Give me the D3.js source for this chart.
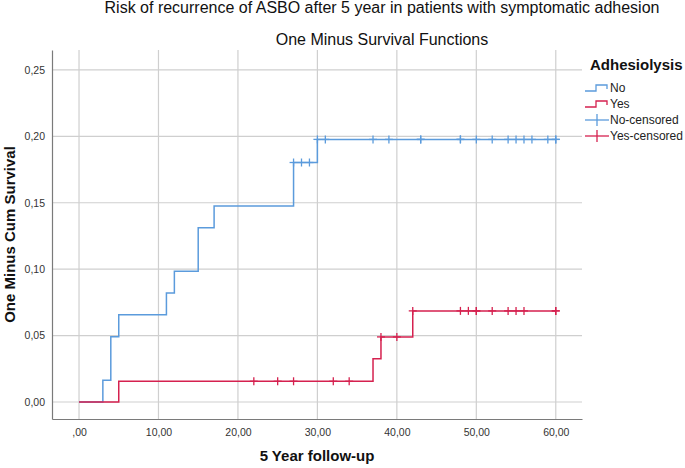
<!DOCTYPE html>
<html>
<head>
<meta charset="utf-8">
<script src="https://cdn.jsdelivr.net/npm/d3@7"></script>
<style>
  html, body { margin: 0; padding: 0; background: #fff; }
  svg { display: block; font-family: "Liberation Sans", Arial, sans-serif; }
</style>
</head>
<body>
<svg id="chart" width="685" height="468"></svg>
<script>
// ---- data ----
const xTicks = [0, 10, 20, 30, 40, 50, 60];
const xTickLabels = [",00", "10,00", "20,00", "30,00", "40,00", "50,00", "60,00"];
const yTicks = [0, 0.05, 0.10, 0.15, 0.20, 0.25];
const yTickLabels = ["0,00", "0,05", "0,10", "0,15", "0,20", "0,25"];

const noTimes  = [0, 3, 4, 5, 11, 12, 15, 17, 27, 30, 60];
const noValues = [0, 0.0164, 0.0492, 0.0656, 0.0820, 0.0984, 0.1311, 0.1475, 0.1803, 0.1977, 0.1977];
const yesTimes  = [0, 5, 37, 38, 42, 60];
const yesValues = [0, 0.0156, 0.0325, 0.0490, 0.0686, 0.0686];

const noCensored  = [27, 28, 29, 30, 31, 37, 39, 43, 43, 48, 48, 50, 52, 54, 55, 56, 57, 59, 60, 60];
const yesCensored = [22, 25, 27, 32, 34, 38, 40, 42, 48, 49, 50, 50, 52, 54, 55, 56, 60, 60];

const groups = ["No", "Yes"];
const legendLabels = ["No", "Yes", "No-censored", "Yes-censored"];

const title = "Risk of recurrence of ASBO after 5 year in patients with symptomatic adhesion";
const subtitle = "One Minus Survival Functions";
const xTitle = "5 Year follow-up";
const yTitle = "One Minus Cum Survival";
const legendTitle = "Adhesiolysis";

// ---- drawing ----
const blue = "#5b9bdc";
const red = "#d5214f";
const colors = [blue, red];

const svg = d3.select("#chart");
const x = d3.scaleLinear().domain([-3.4, 63.3]).range([52, 582]);
const y = d3.scaleLinear().domain([-0.0128, 0.265]).range([419, 50]);

// grid
svg.append("g").selectAll("line").data(xTicks).join("line")
  .attr("x1", d => x(d)).attr("x2", d => x(d))
  .attr("y1", y.range()[1]).attr("y2", y.range()[0])
  .attr("stroke", "#cfcfcf").attr("stroke-width", 1.2);
svg.append("g").selectAll("line").data(yTicks).join("line")
  .attr("x1", x.range()[0]).attr("x2", x.range()[1])
  .attr("y1", d => y(d)).attr("y2", d => y(d))
  .attr("stroke", "#cfcfcf").attr("stroke-width", 1.2);

// axes
const xAxis = d3.axisBottom(x).tickValues(xTicks)
  .tickFormat((d, i) => xTickLabels[i]).tickSize(0).tickPadding(10);
const gx = svg.append("g").attr("transform", `translate(0,${y.range()[0]})`).call(xAxis);
const yAxis = d3.axisLeft(y).tickValues(yTicks)
  .tickFormat((d, i) => yTickLabels[i]).tickSize(0).tickPadding(7);
const gy = svg.append("g").attr("transform", `translate(${x.range()[0]},0)`).call(yAxis);
[gx, gy].forEach(g => {
  g.select(".domain").attr("stroke", "#7a7a7a").attr("stroke-width", 1.2);
  g.selectAll("text").attr("font-size", 10.5).attr("fill", "#333")
    .attr("font-family", "'Liberation Sans', Arial, sans-serif");
});

// step lines
const series = [
  { t: noTimes, v: noValues, c: noCensored },
  { t: yesTimes, v: yesValues, c: yesCensored }
];
const line = d3.line().x(d => x(d[0])).y(d => y(d[1])).curve(d3.curveStepAfter);
series.forEach((s, i) => {
  const pts = s.t.map((t, j) => [t, s.v[j]]);
  svg.append("path").datum(pts).attr("d", line)
    .attr("fill", "none").attr("stroke", colors[i]).attr("stroke-width", 1.5);
});

// censor marks
function valueAt(s, t) {
  let v = s.v[0];
  for (let j = 0; j < s.t.length; j++) if (s.t[j] <= t) v = s.v[j];
  return v;
}
series.forEach((s, i) => {
  const g = svg.append("g").attr("stroke", colors[i]).attr("stroke-width", 1.3);
  s.c.forEach(t => {
    const cx = x(t), cy = y(valueAt(s, t));
    g.append("line").attr("x1", cx - 4).attr("x2", cx + 4).attr("y1", cy).attr("y2", cy);
    g.append("line").attr("x1", cx).attr("x2", cx).attr("y1", cy - 4).attr("y2", cy + 4);
  });
});

// titles
svg.append("text").attr("x", 382).attr("y", 13).attr("text-anchor", "middle")
  .attr("font-size", 16).attr("fill", "#111").text(title);
svg.append("text").attr("x", 382).attr("y", 45).attr("text-anchor", "middle")
  .attr("font-size", 16).attr("fill", "#111").text(subtitle);
svg.append("text").attr("x", (x.range()[0] + x.range()[1]) / 2).attr("y", 461)
  .attr("text-anchor", "middle").attr("font-size", 15).attr("font-weight", "bold")
  .attr("fill", "#111").text(xTitle);
svg.append("text").attr("transform", `translate(15,${(y.range()[0] + y.range()[1]) / 2}) rotate(-90)`)
  .attr("text-anchor", "middle").attr("font-size", 15).attr("font-weight", "bold")
  .attr("fill", "#111").text(yTitle);

// legend
const lg = svg.append("g");
lg.append("text").attr("x", 590).attr("y", 70).attr("font-size", 15)
  .attr("font-weight", "bold").attr("fill", "#111").text(legendTitle);
const legY = [88, 104, 120, 136];
legendLabels.forEach((lab, i) => {
  const cy = legY[i];
  const col = colors[i % 2];
  if (i < 2) {
    lg.append("path")
      .attr("d", `M585,${cy + 3}H596V${cy - 3}H607V${cy + 1}`)
      .attr("fill", "none").attr("stroke", col).attr("stroke-width", 1.3);
  } else {
    lg.append("line").attr("x1", 585).attr("x2", 609).attr("y1", cy).attr("y2", cy)
      .attr("stroke", col).attr("stroke-width", 1.3);
    lg.append("line").attr("x1", 597).attr("x2", 597).attr("y1", cy - 6).attr("y2", cy + 6)
      .attr("stroke", col).attr("stroke-width", 1.3);
  }
  lg.append("text").attr("x", 610).attr("y", cy + 4).attr("font-size", 12)
    .attr("fill", "#222").text(lab);
});
</script>
</body>
</html>
